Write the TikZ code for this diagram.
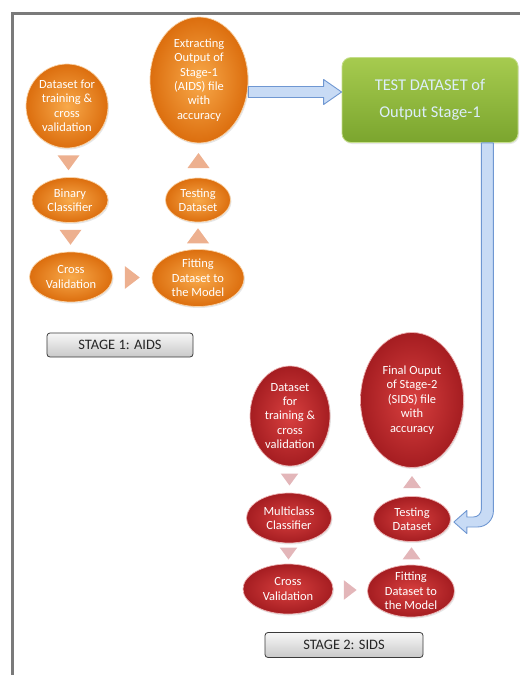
\documentclass[tikz,border=0pt]{standalone}
\usepackage{fontspec}
\setmainfont{Carlito}
\usetikzlibrary{calc,positioning,shapes.geometric,shadows}
\definecolor{orgin}{HTML}{F8A94A}
\definecolor{orgout}{HTML}{DC6E0E}
\definecolor{orgline}{HTML}{FAD3A6}
\definecolor{redin}{HTML}{D8403F}
\definecolor{redout}{HTML}{A51D21}
\definecolor{redline}{HTML}{EDB3B3}
\definecolor{trio}{HTML}{EDB08F}
\definecolor{trir}{HTML}{E3B6B9}
\definecolor{grntop}{HTML}{A6CB4F}
\definecolor{grnbot}{HTML}{7BA52E}
\definecolor{grnline}{HTML}{C5DE8C}
\definecolor{grntext}{HTML}{DCEEFB}
\definecolor{bluefill}{HTML}{C8DBF5}
\definecolor{blueedge}{HTML}{6F97D2}
\definecolor{framegray}{HTML}{7A7A7A}
\definecolor{btntop}{HTML}{F7F7F7}
\definecolor{btnbot}{HTML}{C9C9C9}
\definecolor{btnline}{HTML}{3A3A3A}
\tikzset{
  ovo/.style={ellipse, inner sep=-1bp, inner color=orgin, outer color=orgout, draw=orgline, line width=0.7bp,
    text=white, align=center, font=\fontsize{12.5}{14.5}\selectfont,
    drop shadow={opacity=0.2, shadow xshift=1bp, shadow yshift=-1.5bp}},
  ovr/.style={ovo, inner color=redin, outer color=redout, draw=redline},
  btn/.style={rectangle, rounded corners=3bp, top color=btntop, bottom color=btnbot, draw=btnline, line width=0.8bp,
    text=black!85, font=\fontsize{14.5}{16}\selectfont, minimum height=24bp},
  grnbox/.style={rectangle, rounded corners=9bp, top color=grntop, bottom color=grnbot, draw=grnline, line width=0.8bp,
    text=grntext, align=center, font=\fontsize{16.5}{27}\selectfont, minimum width=176bp, minimum height=85bp,
    drop shadow={opacity=0.2, shadow xshift=1bp, shadow yshift=-1.5bp}},
  flow/.style={fill=bluefill, draw=blueedge, line width=0.9bp, line join=round},
  pics/tridn/.style={code={\path[pic actions] (-11,-7.5) -- (11,-7.5) -- (0,7.5) -- cycle;}},
  pics/triup/.style={code={\path[pic actions] (-11,7.5) -- (11,7.5) -- (0,-7.5) -- cycle;}},
  pics/trirt/.style={code={\path[pic actions] (-7.5,-11.5) -- (-7.5,11.5) -- (7.5,0) -- cycle;}},
}

\begin{document}
\begin{tikzpicture}[x=1bp, y=-1bp]
\useasboundingbox (0,0) rectangle (520,675);
\draw[framegray, line width=3bp] (12.5,676) |- (521,13.5);

% stage 1
\node[ovo, minimum width=82bp, minimum height=84bp] (ds1) at (67,106) {Dataset for\\training \&\\cross\\validation};
\node[ovo, minimum width=76bp, minimum height=45bp] (bc1) at (70,200) {Binary\\Classifier};
\node[ovo, minimum width=83bp, minimum height=50bp] (cv1) at (71,277) {Cross\\Validation};
\node[ovo, minimum width=92bp, minimum height=57bp] (fit1) at (198,278) {Fitting\\Dataset to\\the Model};
\node[ovo, minimum width=65bp, minimum height=44bp] (tst1) at (198,200) {Testing\\Dataset};
\node[ovo, minimum width=98bp, minimum height=126bp] (ext1) at (199,80) {Extracting\\Output of\\Stage-1\\(AIDS) file\\with\\accuracy};
\node[btn, minimum width=146bp] (lbl1) at (120,345) {STAGE 1: AIDS};

\pic[fill=trio] at ($(ds1.south)!0.5!(bc1.north)$) {tridn};
\pic[fill=trio] at ($(bc1.south)!0.5!(cv1.north)$) {tridn};
\pic[fill=trio] at ($(cv1.east)!0.5!(fit1.west)$) {trirt};
\pic[fill=trio] at ($(fit1.north)!0.5!(tst1.south)$) {triup};
\pic[fill=trio] at ($(tst1.north)!0.5!(ext1.south)$) {triup};

% test set
\node[grnbox] (tds) at (430,100) {TEST DATASET of\\Output Stage-1};

% stage 2
\node[ovr, minimum width=80bp, minimum height=100bp] (ds2) at (290,416) {Dataset\\for\\training \&\\cross\\validation};
\node[ovr, minimum width=85bp, minimum height=50bp] (mc2) at (289,518) {Multiclass\\Classifier};
\node[ovr, minimum width=90bp, minimum height=50bp] (cv2) at (288,589) {Cross\\Validation};
\node[ovr, minimum width=87bp, minimum height=52bp] (fit2) at (411,591) {Fitting\\Dataset to\\the Model};
\node[ovr, minimum width=77bp, minimum height=45bp] (tst2) at (412,519) {Testing\\Dataset};
\node[ovr, minimum width=103bp, minimum height=135bp] (fin2) at (412,400) {Final Ouput\\of Stage-2\\(SIDS) file\\with\\accuracy};
\node[btn, minimum width=158bp, minimum height=25bp] (lbl2) at (344,645) {STAGE 2: SIDS};

\pic[fill=trir, scale=0.8] at ($(ds2.south)!0.5!(mc2.north)$) {tridn};
\pic[fill=trir, scale=0.8] at ($(mc2.south)!0.5!(cv2.north)$) {tridn};
\pic[fill=trir, scale=0.85] at ($(cv2.east)!0.5!(fit2.west)$) {trirt};
\pic[fill=trir, scale=0.8] at ($(fit2.north)!0.5!(tst2.south)$) {triup};
\pic[fill=trir, scale=0.8] at ($(tst2.north)!0.5!(fin2.south)$) {triup};

% block arrows
\path[flow] let \p1=([yshift=-12bp]ext1.east), \p2=(tds.west) in
  (\x1,\y1+5.5bp) -- (\x2-18bp,\y1+5.5bp) -- (\x2-18bp,\y1+12.5bp) -- (\x2,\y1)
  -- (\x2-18bp,\y1-12.5bp) -- (\x2-18bp,\y1-5.5bp) -- (\x1,\y1-5.5bp) -- cycle;
\path[flow] let \p1=([xshift=-31bp]tds.south east), \p2=([xshift=3bp,yshift=-3bp]tst2.east) in
  (\x1-6bp,\y1) -- (\x1+6bp,\y1) [rounded corners=16bp] -- (\x1+6bp,\y2-5bp) [sharp corners]
  -- (\x2+13bp,\y2-5bp) -- (\x2+13bp,\y2-11.5bp) -- (\x2,\y2) -- (\x2+13bp,\y2+11.5bp)
  -- (\x2+13bp,\y2+5bp) [rounded corners=8bp] -- (\x1-6bp,\y2+5bp) [sharp corners] -- cycle;
\end{tikzpicture}
\end{document}
